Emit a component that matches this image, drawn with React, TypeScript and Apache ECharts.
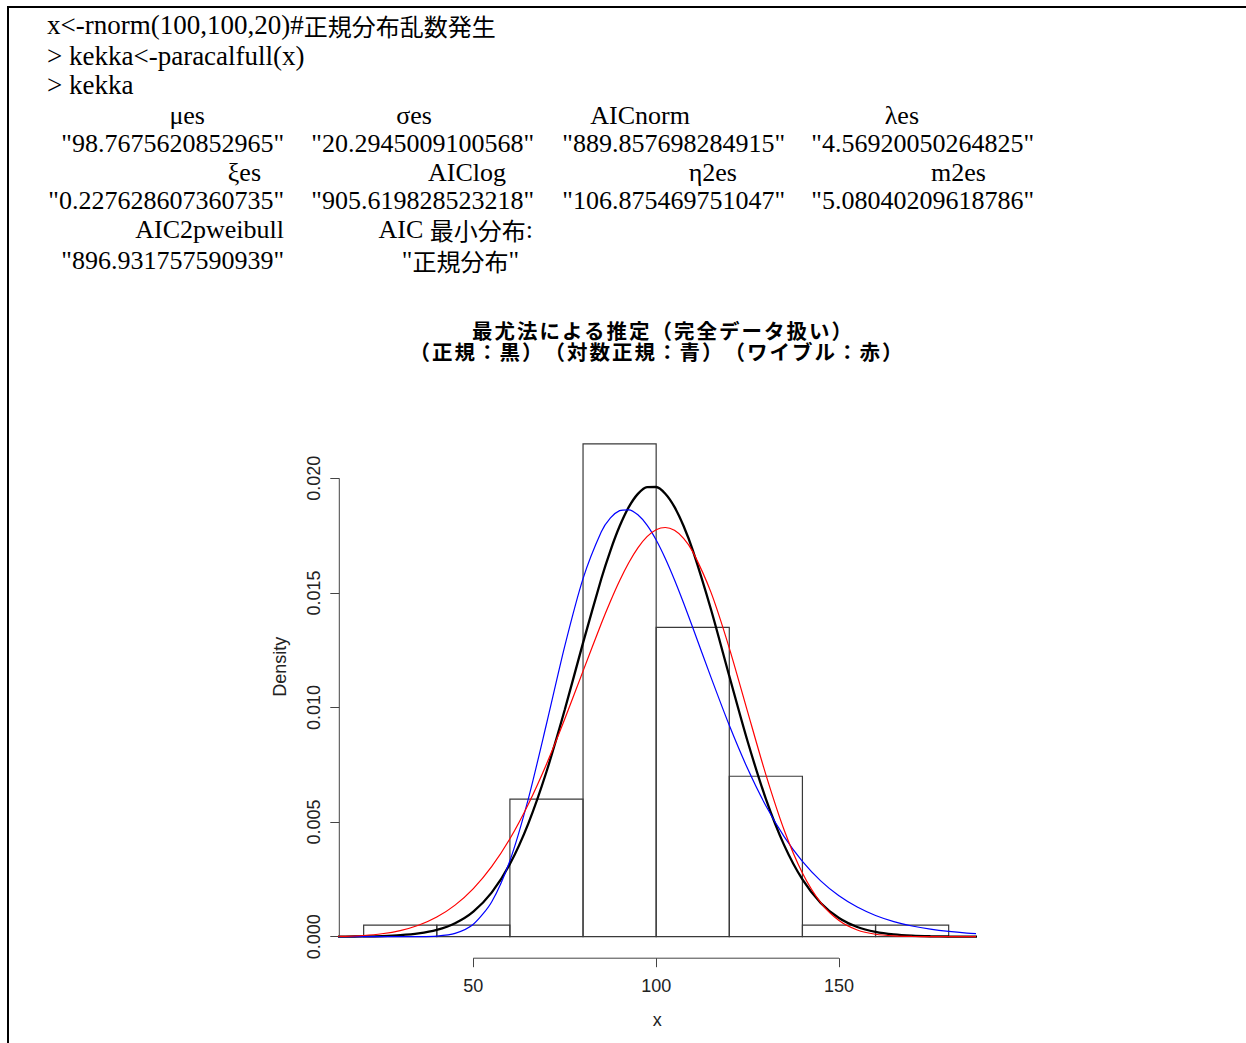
import React, { useEffect, useRef } from "react";
import * as echarts from "echarts";

// ---------- data ----------
const binEdges = [20, 40, 60, 80, 100, 120, 140, 160, 180];
const binDensity = [0.0005, 0.0005, 0.006, 0.0215, 0.0135, 0.007, 0.0005, 0.0005];

const curveX = [
  10, 15, 20, 25, 30, 35, 40, 45, 50, 55, 60, 65, 70, 75, 80, 85, 87.5, 90, 92.5, 95, 97.5,
  100, 102.5, 105, 107.5, 110, 115, 120, 125, 130, 135, 140, 145, 150, 155, 160, 165, 170,
  175, 180, 185, 190,
];
// 正規 (black)
const normalY = [
  0.0000014, 0.0000039, 0.0000105, 0.0000266, 0.0000631, 0.000141, 0.000297, 0.000588,
  0.001095, 0.001921, 0.00317, 0.004924, 0.007196, 0.009899, 0.012819, 0.015616, 0.01685,
  0.017906, 0.018742, 0.019321, 0.019619, 0.019621, 0.019327, 0.018752, 0.017919, 0.016865,
  0.014276, 0.011372, 0.008526, 0.006015, 0.003994, 0.002495, 0.001468, 0.000812, 0.000423,
  0.000208, 0.0000957, 0.0000416, 0.000017, 0.0000065, 0.0000024, 0.0000008,
];
// 対数正規 (blue)
const lognormY = [
  0, 0, 0, 0, 0.0000001, 0.0000025, 0.0000248, 0.000143, 0.000543, 0.001514, 0.003316,
  0.005992, 0.00928, 0.012679, 0.015624, 0.017667, 0.018272, 0.018589, 0.018627, 0.018407,
  0.017956, 0.017308, 0.016502, 0.015574, 0.014559, 0.013492, 0.011313, 0.009221, 0.007335,
  0.005711, 0.004366, 0.003283, 0.002434, 0.001782, 0.001291, 0.000926, 0.000659, 0.000465,
  0.000327, 0.000228, 0.000158, 0.00011,
];
// ワイブル (red)
const weibullY = [
  0.000003, 0.0000157, 0.0000509, 0.000127, 0.000266, 0.000498, 0.000856, 0.001376,
  0.002098, 0.003054, 0.004273, 0.005769, 0.007526, 0.009496, 0.011588, 0.013662, 0.014633,
  0.015528, 0.016313, 0.016966, 0.017456, 0.017758, 0.017855, 0.01773, 0.017379, 0.016802,
  0.015022, 0.012593, 0.00982, 0.007071, 0.004655, 0.002777, 0.001485, 0.000704, 0.000292,
  0.000104, 0.0000317, 0.0000081, 0.0000017, 0.0000003, 0, 0,
];

const xTicks = [50, 100, 150];
const yTicks = [0, 0.005, 0.01, 0.015, 0.02];
const yTickLabels = ["0.000", "0.005", "0.010", "0.015", "0.020"];

const titleLines = [
  "最尤法による推定（完全データ扱い）",
  "（正規：黒）（対数正規：青）（ワイブル：赤）",
];

const consoleCommands = [
  "{c|x<-rnorm(100,100,20)#}{j|正規分布乱数発生}",
  "{c|> kekka<-paracalfull(x)}",
  "{c|> kekka}",
];
const nameRow1 = ["μes", "σes", "AICnorm", "λes"];
const valueRow1 = ['"98.7675620852965"', '"20.2945009100568"', '"889.857698284915"', '"4.56920050264825"'];
const nameRow2 = ["ξes", "AIClog", "η2es", "m2es"];
const valueRow2 = ['"0.227628607360735"', '"905.619828523218"', '"106.875469751047"', '"5.08040209618786"'];
const nameRow3 = ["{s|AIC2pweibull}", "{s|AIC }{j|最小分布}{s|:}"];
const valueRow3 = ['{s|"896.931757590939"}', '{s|"}{j|正規分布}{s|"}'];

// ---------- layout ----------
const X_MIN = 13.34;
const X_MAX = 187.2;
const Y_MIN = -0.00094;
const Y_MAX = 0.0245;

const SERIF = "'Liberation Serif', 'Times New Roman', serif";
const CJK = "'Noto Sans CJK JP', sans-serif";
const AXISFONT = "'Liberation Sans Narrow', 'Liberation Sans', sans-serif";

const rich = {
  s: { fontFamily: SERIF, fontSize: 26, fill: "#000", color: "#000" },
  c: { fontFamily: SERIF, fontSize: 27, fill: "#000", color: "#000" },
  j: { fontFamily: CJK, fontSize: 24, fill: "#000", color: "#000" },
};

function txt(text: string, x: number, y: number, align: string) {
  return {
    type: "text",
    x,
    y,
    silent: true,
    style: {
      text,
      rich,
      fontFamily: SERIF,
      fontSize: 26,
      fill: "#000",
      align,
      textAlign: align,
      verticalAlign: "middle",
      textVerticalAlign: "middle",
    },
  };
}

export default function App() {
  const ref = useRef<HTMLDivElement>(null);

  useEffect(() => {
    document.body.style.margin = "0";
    if (!ref.current) return;
    const chart = echarts.init(ref.current, null, { renderer: "svg" });

    const row1NameEnds = [205, 432, 690, 919];
    const rowValueEnds = [284, 534, 785, 1034];
    const row2NameEnds = [261, 506, 737, 986];
    const row3NameEnds = [284, 533];
    const row3ValueEnds = [284, 519];

    const graphics: any[] = [
      { type: "line", silent: true, shape: { x1: 8, y1: 7, x2: 1246, y2: 7 }, style: { stroke: "#000", lineWidth: 2 } },
      { type: "line", silent: true, shape: { x1: 8, y1: 6, x2: 8, y2: 1043 }, style: { stroke: "#000", lineWidth: 2 } },
    ];
    const cmdY = [25, 55.5, 85];
    consoleCommands.forEach((t, i) => graphics.push(txt(t, 47, cmdY[i], "left")));
    nameRow1.forEach((t, i) => graphics.push(txt(`{s|${t}}`, row1NameEnds[i], 115, "right")));
    valueRow1.forEach((t, i) => graphics.push(txt(`{s|${t}}`, rowValueEnds[i], 143, "right")));
    nameRow2.forEach((t, i) => graphics.push(txt(`{s|${t}}`, row2NameEnds[i], 172, "right")));
    valueRow2.forEach((t, i) => graphics.push(txt(`{s|${t}}`, rowValueEnds[i], 200, "right")));
    nameRow3.forEach((t, i) => graphics.push(txt(t, row3NameEnds[i], 229.5, "right")));
    valueRow3.forEach((t, i) => graphics.push(txt(t, row3ValueEnds[i], 260.5, "right")));

    const histData = binDensity.map((d, i) => [binEdges[i], binEdges[i + 1], d]);
    const pts = (ys: number[]) => curveX.map((x, i) => [x, ys[i]]);

    const axisText = { fontFamily: AXISFONT, fontSize: 18, color: "#222" };
    const titleStyle = {
      fontFamily: CJK,
      fontWeight: "bold",
      fontSize: 20.5,
      lineHeight: 21,
      color: "#000",
    };

    chart.setOption({
      animation: false,
      backgroundColor: "#fff",
      title: [
        { text: titleLines[0], left: 658, top: 314, textAlign: "center", textStyle: titleStyle },
        { text: titleLines[1], left: 652, top: 335, textAlign: "center", textStyle: titleStyle },
      ],
      graphic: { elements: graphics },
      grid: {
        left: 339.3,
        top: 375.2,
        width: 635.7,
        height: 583,
        containLabel: false,
        outerBoundsMode: "none",
      },
      xAxis: {
        type: "value",
        min: X_MIN,
        max: X_MAX,
        axisLine: { show: false, onZero: false },
        splitLine: { show: false },
        axisTick: { show: true, customValues: xTicks, length: 9, lineStyle: { color: "#444", width: 1 } },
        axisLabel: { show: true, customValues: xTicks, margin: 19, ...axisText },
        name: "x",
        nameLocation: "middle",
        nameGap: 53,
        nameTextStyle: axisText,
      },
      yAxis: {
        type: "value",
        min: Y_MIN,
        max: Y_MAX,
        axisLine: { show: false, onZero: false },
        splitLine: { show: false },
        axisTick: { show: true, customValues: yTicks, length: 9, lineStyle: { color: "#444", width: 1 } },
        axisLabel: {
          show: true,
          customValues: yTicks,
          rotate: 90,
          margin: 16,
          formatter: (v: number) => {
            const k = yTicks.findIndex((t) => Math.abs(t - v) < 1e-9);
            return k >= 0 ? yTickLabels[k] : v.toFixed(3);
          },
          ...axisText,
        },
        name: "Density",
        nameLocation: "middle",
        nameRotate: 90,
        nameGap: 50,
        nameTextStyle: axisText,
      },
      series: [
        {
          type: "custom",
          name: "hist",
          silent: true,
          data: histData,
          encode: { x: [0, 1], y: 2 },
          renderItem: (params: any, api: any) => {
            const p0 = api.coord([api.value(0), api.value(2)]);
            const p1 = api.coord([api.value(1), 0]);
            return {
              type: "rect",
              shape: { x: p0[0], y: p0[1], width: p1[0] - p0[0], height: p1[1] - p0[1] },
              style: { fill: "none", stroke: "#3a3a3a", lineWidth: 1.2 },
            };
          },
        },
        {
          type: "line",
          name: "正規",
          data: pts(normalY),
          showSymbol: false,
          smooth: 0.25,
          clip: true,
          silent: true,
          lineStyle: { color: "#000", width: 2.3 },
          itemStyle: { color: "#000" },
        },
        {
          type: "line",
          name: "対数正規",
          data: pts(lognormY),
          showSymbol: false,
          smooth: 0.25,
          clip: true,
          silent: true,
          lineStyle: { color: "#0000ff", width: 1.2 },
          itemStyle: { color: "#0000ff" },
        },
        {
          type: "line",
          name: "ワイブル",
          data: pts(weibullY),
          showSymbol: false,
          smooth: 0.25,
          clip: true,
          silent: true,
          lineStyle: { color: "#ff0000", width: 1.2 },
          itemStyle: { color: "#ff0000" },
        },
        {
          type: "line",
          name: "x-axis",
          data: [
            [xTicks[0], Y_MIN],
            [xTicks[xTicks.length - 1], Y_MIN],
          ],
          showSymbol: false,
          clip: false,
          silent: true,
          lineStyle: { color: "#444", width: 1 },
        },
        {
          type: "line",
          name: "y-axis",
          data: [
            [X_MIN, yTicks[0]],
            [X_MIN, yTicks[yTicks.length - 1]],
          ],
          showSymbol: false,
          clip: false,
          silent: true,
          lineStyle: { color: "#444", width: 1 },
        },
      ],
    });

    return () => chart.dispose();
  }, []);

  return (
    <>
      <style>
        {"#root svg text, #root svg tspan { text-spacing-trim: space-all; } " +
          "#root svg text[style*='bold'] { letter-spacing: 2px; }"}
      </style>
      <div
        ref={ref}
        style={{ position: "absolute", left: 0, top: 0, width: 1246, height: 1043, background: "#fff" }}
      />
    </>
  );
}
